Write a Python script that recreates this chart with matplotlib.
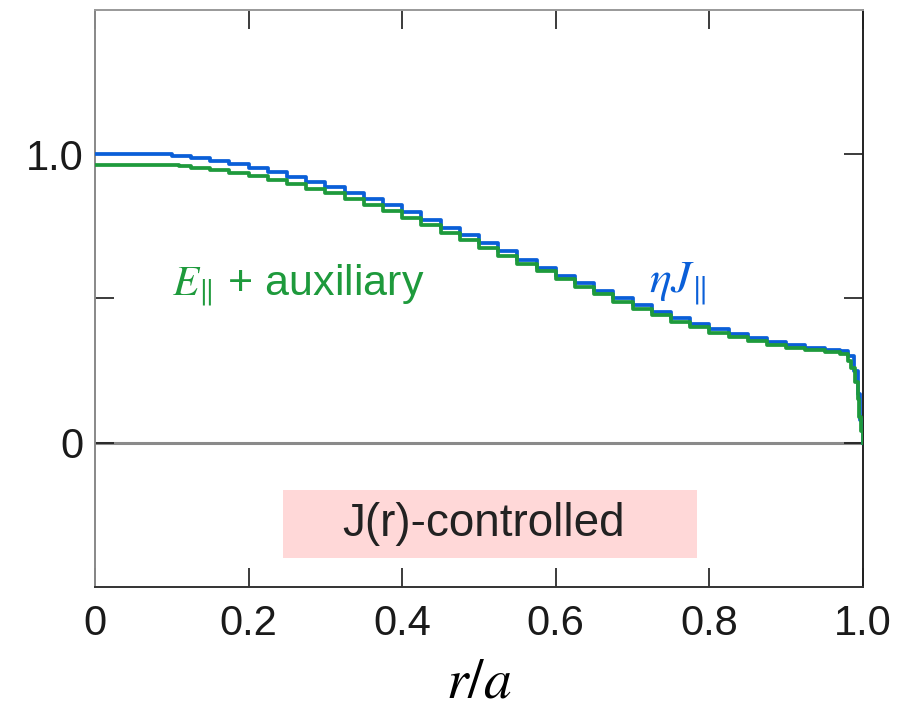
import matplotlib
matplotlib.use('Agg')
import matplotlib.pyplot as plt
from matplotlib.patches import Rectangle

plt.rcParams['font.family'] = 'Liberation Sans'
plt.rcParams['mathtext.fontset'] = 'stix'

# radial profiles (stepped in the original)
r_eta = [0.000, 0.085, 0.100, 0.125, 0.150, 0.175, 0.200, 0.225, 0.250, 0.275,
         0.300, 0.325, 0.350, 0.375, 0.400, 0.425, 0.450, 0.475, 0.500, 0.525,
         0.550, 0.575, 0.600, 0.625, 0.650, 0.675, 0.700, 0.725, 0.750, 0.775,
         0.800, 0.825, 0.850, 0.875, 0.900, 0.925, 0.950, 0.970, 0.980, 0.988,
         0.993, 0.996, 1.000]
eta_j = [1.000, 1.000, 0.994, 0.986, 0.977, 0.966, 0.952, 0.938, 0.922, 0.905,
         0.887, 0.867, 0.846, 0.823, 0.799, 0.773, 0.746, 0.719, 0.691, 0.663,
         0.635, 0.607, 0.579, 0.552, 0.526, 0.501, 0.477, 0.453, 0.431, 0.411,
         0.393, 0.377, 0.362, 0.349, 0.338, 0.329, 0.322, 0.318, 0.300, 0.250,
         0.170, 0.080, 0.000]

r_e = [0.000, 0.095, 0.110, 0.125, 0.150, 0.175, 0.200, 0.225, 0.250, 0.275,
       0.300, 0.325, 0.350, 0.375, 0.400, 0.425, 0.450, 0.475, 0.500, 0.525,
       0.550, 0.575, 0.600, 0.625, 0.650, 0.675, 0.700, 0.725, 0.750, 0.775,
       0.800, 0.825, 0.850, 0.875, 0.900, 0.925, 0.950, 0.970, 0.980, 0.985,
       0.990, 0.993, 0.995, 0.998, 1.000]
e_aux = [0.962, 0.962, 0.958, 0.953, 0.945, 0.935, 0.924, 0.911, 0.897, 0.881,
         0.864, 0.845, 0.825, 0.803, 0.779, 0.754, 0.728, 0.702, 0.675, 0.648,
         0.621, 0.594, 0.567, 0.540, 0.514, 0.489, 0.465, 0.442, 0.420, 0.400,
         0.382, 0.366, 0.352, 0.340, 0.330, 0.321, 0.314, 0.308, 0.285, 0.260,
         0.210, 0.150, 0.090, 0.040, 0.000]

x_ticks = [0, 0.2, 0.4, 0.6, 0.8, 1.0]
x_labels = ['0', '0.2', '0.4', '0.6', '0.8', '1.0']
y_ticks = [0, 0.5, 1.0]
y_labels = ['0', '', '1.0']

# controlled region box (r range, value range)
box_r = [0.245, 0.784]
box_y = [-0.398, -0.163]

blue = '#0a5fd8'
green = '#1e9a3c'

fig = plt.figure(figsize=(9.07, 7.08), dpi=100)
ax = fig.add_axes([0.1047, 0.1709, 0.8468, 0.815])

ax.axhline(0, color='#8a8a8a', linewidth=2.2, zorder=1)
ax.plot(r_eta, eta_j, drawstyle='steps-post', color=blue, linewidth=2.7, zorder=3)
ax.plot(r_e, e_aux, drawstyle='steps-post', color=green, linewidth=2.7, zorder=4)

ax.add_patch(Rectangle((box_r[0], box_y[0]), box_r[1] - box_r[0], box_y[1] - box_y[0],
                       facecolor='#ffd8d8', edgecolor='none', zorder=0))
ax.text(sum(box_r) / 2 - 0.008, sum(box_y) / 2, 'J(r)-controlled', ha='center', va='center',
        fontsize=33, color='#222222')

ax.text(0.10, 0.545, r'$E_{\|}$ + auxiliary', color=green, fontsize=31,
        ha='left', va='center')
ax.text(0.722, 0.55, r'$\eta J_{\|}$', color=blue, fontsize=33, ha='left', va='center')

ax.set_xlim(0, 1.0)
ax.set_ylim(-0.5, 1.5)
ax.set_xticks(x_ticks)
ax.set_xticklabels(x_labels)
ax.set_yticks(y_ticks)
ax.set_yticklabels(y_labels)
ax.tick_params(direction='in', length=14, width=1.2, labelsize=30,
               top=True, right=True, colors='#1a1a1a')
ax.tick_params(axis='x', pad=12)
ax.tick_params(axis='y', pad=8)

ax.spines['left'].set_color('#888888')
ax.spines['top'].set_color('#999999')
ax.spines['right'].set_color('#222222')
ax.spines['bottom'].set_color('#333333')
for s in ax.spines.values():
    s.set_linewidth(1.4)

ax.set_xlabel(r'$r/a$', fontsize=40, labelpad=10)

fig.savefig('out.png', dpi=100)
